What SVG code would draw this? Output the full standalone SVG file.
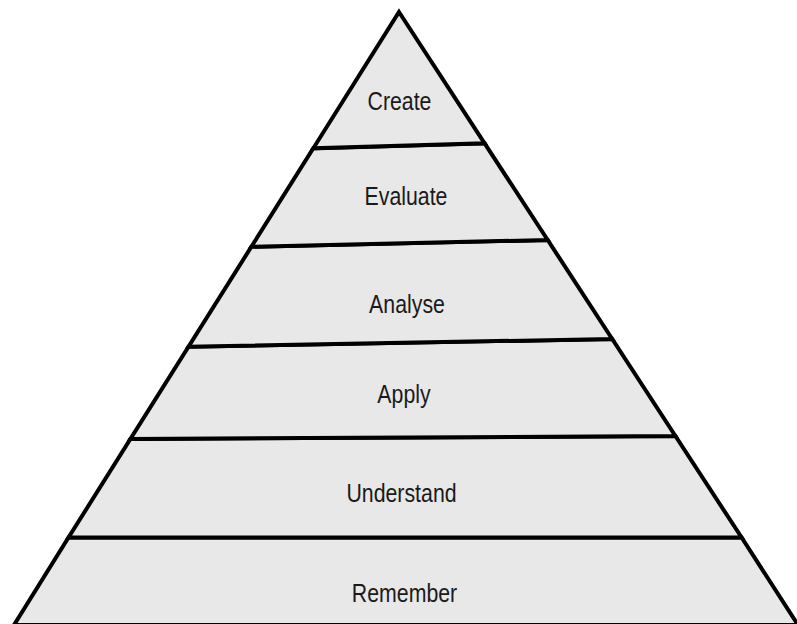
<svg xmlns="http://www.w3.org/2000/svg" width="797" height="624" viewBox="0 0 797 624">
<style>
.tier{fill:#e8e8e8;stroke:#000;stroke-width:4;stroke-linejoin:miter;stroke-miterlimit:10}
.lbl{font-family:"Liberation Sans",Arial,sans-serif;font-size:26px;fill:#1a1a1a;text-anchor:middle}
</style>
<rect width="797" height="624" fill="#fff"/>
<g id="remember">
<polygon class="tier" points="68.5,537.5 741.6,537.5 798,625 14,625"/>
<text class="lbl" transform="translate(404.5,601.7) scale(0.82,1)">Remember</text>
</g>
<g id="understand">
<polygon class="tier" points="130.4,439 675.4,436 741.6,537.5 68.5,537.5"/>
<text class="lbl" transform="translate(401.5,501.7) scale(0.82,1)">Understand</text>
</g>
<g id="apply">
<polygon class="tier" points="188.5,346.7 612.2,339 675.4,436 130.4,439"/>
<text class="lbl" transform="translate(404,403) scale(0.82,1)">Apply</text>
</g>
<g id="analyse">
<polygon class="tier" points="251.4,246.7 547.7,240 612.2,339 188.5,346.7"/>
<text class="lbl" transform="translate(407,313.3) scale(0.82,1)">Analyse</text>
</g>
<g id="evaluate">
<polygon class="tier" points="313.3,148.3 484.6,143.3 547.7,240 251.4,246.7"/>
<text class="lbl" transform="translate(406,205) scale(0.82,1)">Evaluate</text>
</g>
<g id="create">
<polygon class="tier" points="399,12 484.6,143.3 313.3,148.3"/>
<text class="lbl" transform="translate(399.5,110) scale(0.82,1)">Create</text>
</g>
<g id="connectors"></g>
</svg>
